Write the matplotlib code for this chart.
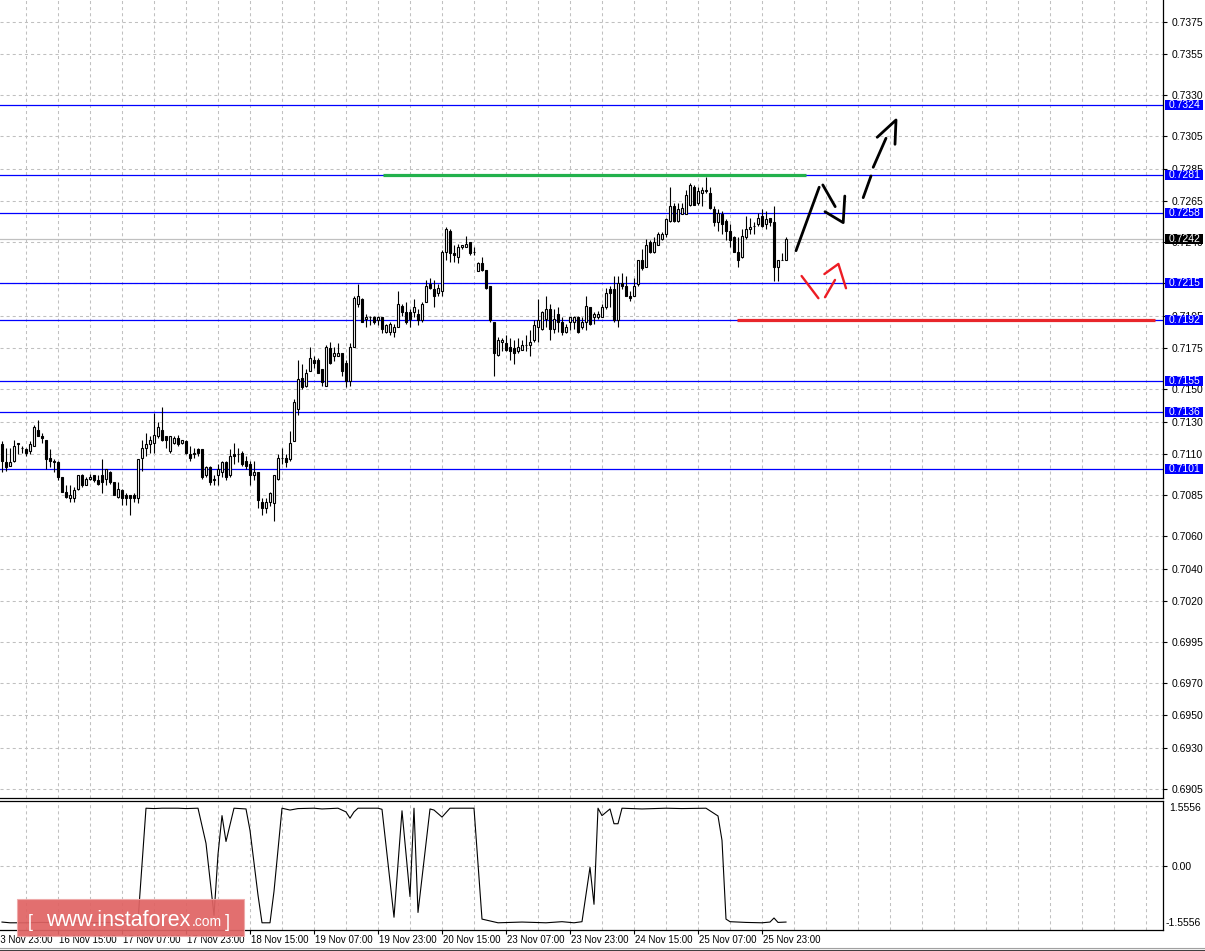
import numpy as np
import matplotlib
matplotlib.use("Agg")
import matplotlib.pyplot as plt
from matplotlib.transforms import blended_transform_factory, offset_copy
from matplotlib.patches import Rectangle
from matplotlib.lines import Line2D

plt.rcParams['font.family'] = ['Liberation Sans', 'DejaVu Sans']
plt.rcParams['lines.scale_dashes'] = False

# ---------------- data ----------------
opens = [0.7116,0.7105,0.7103,0.7106,0.7116,0.7114,0.7113,0.7112,0.7115,0.7125,
0.7121,0.7119,0.7108,0.7105,0.7105,0.7096,0.7087,0.7083,0.7083,0.7089,
0.7097,0.7091,0.7095,0.7097,0.7094,0.7097,0.7095,0.7099,0.7093,0.7084,
0.7088,0.7085,0.7085,0.7085,0.7083,0.7108,0.7114,0.7116,0.7117,0.7121,
0.7125,0.7121,0.7112,0.7117,0.7120,0.7117,0.7118,0.7110,0.7110,0.7113,
0.7113,0.7097,0.7102,0.7094,0.7097,0.7099,0.7105,0.7097,0.7110,0.7110,
0.7111,0.7106,0.7104,0.7097,0.7099,0.7081,0.7077,0.7081,0.7080,0.7095,
0.7108,0.7108,0.7107,0.7118,0.7138,0.7157,0.7152,0.7161,0.7168,0.7168,
0.7162,0.7152,0.7175,0.7170,0.7170,0.7172,0.7166,0.7155,0.7176,0.7202,
0.7205,0.7193,0.7194,0.7194,0.7192,0.7194,0.7185,0.7185,0.7185,0.7188,
0.7201,0.7197,0.7197,0.7197,0.7196,0.7192,0.7203,0.7214,0.7211,0.7209,
0.7210,0.7234,0.7247,0.7233,0.7231,0.7237,0.7237,0.7240,0.7234,0.7222,
0.7227,0.7223,0.7213,0.7191,0.7171,0.7179,0.7178,0.7176,0.7175,0.7173,
0.7174,0.7177,0.7177,0.7180,0.7188,0.7187,0.7193,0.7199,0.7187,0.7196,
0.7191,0.7185,0.7191,0.7191,0.7194,0.7188,0.7191,0.7200,0.7194,0.7194,
0.7194,0.7200,0.7211,0.7211,0.7192,0.7215,0.7213,0.7207,0.7207,0.7214,
0.7229,0.7225,0.7240,0.7234,0.7238,0.7242,0.7245,0.7253,0.7262,0.7253,
0.7257,0.7257,0.7263,0.7274,0.7264,0.7270,0.7271,0.7270,0.7260,0.7252,
0.7257,0.7253,0.7247,0.7243,0.7234,0.7231,0.7243,0.7248,0.7250,0.7251,
0.7256,0.7251,0.7255,0.7252,0.7225,0.7229,0.7229]

highs = [0.7118,0.7114,0.7114,0.7119,0.7117,0.7115,0.7114,0.7118,0.7128,0.7131,
0.7123,0.7119,0.7113,0.7107,0.7106,0.7096,0.7091,0.7091,0.7090,0.7097,
0.7098,0.7096,0.7098,0.7097,0.7097,0.7107,0.7101,0.7100,0.7093,0.7093,
0.7089,0.7086,0.7085,0.7086,0.7107,0.7119,0.7123,0.7121,0.7135,0.7130,
0.7139,0.7121,0.7121,0.7121,0.7122,0.7119,0.7119,0.7115,0.7114,0.7114,
0.7113,0.7103,0.7103,0.7097,0.7104,0.7106,0.7106,0.7113,0.7117,0.7114,
0.7112,0.7109,0.7106,0.7106,0.7099,0.7083,0.7083,0.7087,0.7097,0.7110,
0.7114,0.7110,0.7124,0.7144,0.7168,0.7165,0.7162,0.7176,0.7170,0.7169,
0.7162,0.7177,0.7179,0.7176,0.7178,0.7172,0.7168,0.7178,0.7207,0.7214,
0.7206,0.7196,0.7195,0.7195,0.7195,0.7194,0.7190,0.7191,0.7190,0.7210,
0.7202,0.7203,0.7199,0.7205,0.7199,0.7203,0.7217,0.7218,0.7217,0.7214,
0.7235,0.7249,0.7248,0.7238,0.7239,0.7238,0.7244,0.7240,0.7237,0.7228,
0.7231,0.7223,0.7213,0.7191,0.7182,0.7181,0.7183,0.7181,0.7180,0.7181,
0.7180,0.7183,0.7186,0.7192,0.7205,0.7198,0.7207,0.7202,0.7199,0.7200,
0.7194,0.7190,0.7194,0.7195,0.7195,0.7194,0.7207,0.7200,0.7197,0.7198,
0.7202,0.7212,0.7213,0.7219,0.7219,0.7221,0.7219,0.7210,0.7218,0.7229,
0.7236,0.7242,0.7241,0.7243,0.7246,0.7246,0.7255,0.7274,0.7264,0.7264,
0.7264,0.7272,0.7276,0.7275,0.7274,0.7274,0.7280,0.7274,0.7262,0.7260,
0.7259,0.7254,0.7251,0.7244,0.7243,0.7248,0.7256,0.7255,0.7252,0.7258,
0.7260,0.7259,0.7255,0.7262,0.7229,0.7233,0.7243]

lows = [0.7099,0.7100,0.7103,0.7105,0.7110,0.7111,0.7109,0.7110,0.7115,0.7121,
0.7117,0.7101,0.7102,0.7099,0.7094,0.7087,0.7083,0.7081,0.7081,0.7088,
0.7090,0.7091,0.7094,0.7093,0.7091,0.7086,0.7091,0.7092,0.7085,0.7083,
0.7079,0.7079,0.7073,0.7081,0.7080,0.7100,0.7109,0.7111,0.7111,0.7120,
0.7118,0.7114,0.7111,0.7116,0.7115,0.7116,0.7110,0.7106,0.7108,0.7109,
0.7095,0.7096,0.7091,0.7091,0.7091,0.7096,0.7094,0.7096,0.7104,0.7105,
0.7103,0.7101,0.7091,0.7094,0.7077,0.7073,0.7074,0.7078,0.7069,0.7094,
0.7104,0.7102,0.7106,0.7118,0.7134,0.7150,0.7151,0.7161,0.7163,0.7160,
0.7152,0.7152,0.7165,0.7167,0.7170,0.7158,0.7151,0.7152,0.7176,0.7200,
0.7191,0.7188,0.7189,0.7190,0.7189,0.7184,0.7184,0.7183,0.7182,0.7188,
0.7195,0.7190,0.7188,0.7194,0.7189,0.7191,0.7203,0.7211,0.7200,0.7207,
0.7207,0.7229,0.7228,0.7228,0.7227,0.7236,0.7237,0.7232,0.7232,0.7222,
0.7222,0.7211,0.7191,0.7158,0.7170,0.7173,0.7173,0.7168,0.7165,0.7172,
0.7174,0.7173,0.7170,0.7179,0.7179,0.7186,0.7188,0.7180,0.7184,0.7185,
0.7183,0.7184,0.7186,0.7187,0.7184,0.7187,0.7186,0.7189,0.7190,0.7193,
0.7194,0.7199,0.7200,0.7191,0.7188,0.7211,0.7207,0.7204,0.7207,0.7213,
0.7223,0.7225,0.7233,0.7233,0.7238,0.7241,0.7243,0.7252,0.7252,0.7252,
0.7257,0.7257,0.7262,0.7263,0.7263,0.7262,0.7270,0.7260,0.7250,0.7247,
0.7245,0.7241,0.7237,0.7234,0.7225,0.7230,0.7242,0.7245,0.7245,0.7250,
0.7249,0.7248,0.7250,0.7216,0.7216,0.7229,0.7229]

closes = [0.7106,0.7102,0.7105,0.7115,0.7117,0.7114,0.7111,0.7116,0.7127,0.7121,
0.7120,0.7107,0.7106,0.7106,0.7096,0.7087,0.7084,0.7085,0.7088,0.7097,
0.7091,0.7095,0.7096,0.7094,0.7092,0.7093,0.7101,0.7093,0.7085,0.7089,
0.7083,0.7083,0.7083,0.7083,0.7107,0.7114,0.7116,0.7119,0.7122,0.7127,
0.7119,0.7119,0.7121,0.7120,0.7116,0.7119,0.7111,0.7108,0.7111,0.7111,
0.7096,0.7102,0.7093,0.7095,0.7101,0.7105,0.7096,0.7109,0.7109,0.7110,
0.7104,0.7103,0.7097,0.7099,0.7082,0.7077,0.7081,0.7086,0.7097,0.7108,
0.7108,0.7105,0.7117,0.7142,0.7156,0.7151,0.7160,0.7169,0.7166,0.7160,
0.7154,0.7176,0.7166,0.7172,0.7172,0.7161,0.7155,0.7176,0.7206,0.7207,
0.7191,0.7194,0.7194,0.7191,0.7194,0.7187,0.7189,0.7190,0.7188,0.7202,
0.7197,0.7191,0.7193,0.7200,0.7192,0.7202,0.7213,0.7212,0.7207,0.7212,
0.7234,0.7248,0.7233,0.7232,0.7237,0.7238,0.7239,0.7233,0.7234,0.7227,
0.7223,0.7212,0.7192,0.7172,0.7180,0.7180,0.7174,0.7173,0.7172,0.7176,
0.7177,0.7177,0.7179,0.7189,0.7192,0.7197,0.7199,0.7187,0.7193,0.7191,
0.7185,0.7188,0.7194,0.7194,0.7185,0.7191,0.7201,0.7190,0.7196,0.7196,
0.7200,0.7209,0.7209,0.7192,0.7215,0.7213,0.7207,0.7206,0.7213,0.7229,
0.7224,0.7238,0.7234,0.7240,0.7245,0.7245,0.7254,0.7262,0.7253,0.7260,
0.7261,0.7269,0.7275,0.7263,0.7271,0.7272,0.7272,0.7261,0.7252,0.7258,
0.7251,0.7247,0.7241,0.7234,0.7229,0.7244,0.7248,0.7249,0.7250,0.7255,
0.7250,0.7254,0.7252,0.7225,0.7229,0.7229,0.7242]

# indicator (bar index, value)
ind_bars = [0,2,6,10,14,20,26,30,34,36,38,40,44,46,49,51,53,54,55,56,58,61,62,64,65,67,68,70,72,74,78,80,84,86,87,88,89,94,95,
            98,100,102,103,104,107,108,110,112,118,120,124,130,136,140,143,145,147,148,149,150,152,153,154,155,160,166,170,176,
            179,180,181,182,186,190,192,193,194,196]
ind_vals = [-1.53,-1.55,-1.55,-1.54,-1.55,-1.55,-1.54,-1.55,-1.50,1.55,1.54,1.55,1.55,1.54,1.55,0.60,-1.35,0.30,1.35,0.65,1.55,1.53,0.95,-0.80,-1.55,-1.55,-0.70,1.55,1.50,1.54,1.55,1.53,1.55,1.45,1.28,1.45,1.55,1.55,1.52,
            -1.40,1.48,-0.84,1.55,-1.27,1.53,1.50,1.31,1.55,1.55,-1.45,-1.55,-1.53,-1.55,-1.52,-1.55,-1.52,-0.05,-1.05,1.55,1.35,1.53,1.13,1.13,1.55,1.53,1.55,1.54,1.55,
            1.34,0.68,-1.45,-1.52,-1.54,-1.55,-1.53,-1.42,-1.54,-1.53]
ind_max = 1.5556

# levels
blue_levels = [0.7324, 0.7281, 0.7258, 0.7215, 0.7192, 0.7155, 0.7136, 0.7101]
bid_level = 0.7242
price_ticks = [0.7375, 0.7355, 0.7330, 0.7305, 0.7285, 0.7265, 0.7240, 0.7215, 0.7195, 0.7175,
               0.7150, 0.7130, 0.7110, 0.7085, 0.7060, 0.7040, 0.7020, 0.6995, 0.6970, 0.6950,
               0.6930, 0.6905]
green_line = (0.7281, 95.25, 201.0)
red_line = (0.7192, 183.75, 288.25)

time_ticks = [-2, 14, 30, 46, 62, 78, 94, 110, 126, 142, 158, 174, 190]
time_labels = ["13 Nov 23:00", "16 Nov 15:00", "17 Nov 07:00", "17 Nov 23:00", "18 Nov 15:00",
               "19 Nov 07:00", "19 Nov 23:00", "20 Nov 15:00", "23 Nov 07:00", "23 Nov 23:00",
               "24 Nov 15:00", "25 Nov 07:00", "25 Nov 23:00"]

black_paths = [
    [(198.5, 0.72347), (204.3, 0.72736)],
    [(205.2, 0.72750), (208.3, 0.72617)],
    [(205.75, 0.72586), (210.3, 0.72519), (210.7, 0.72682)],
    [(215.3, 0.72672), (217.25, 0.72805)],
    [(217.8, 0.72858), (221.0, 0.73036)],
    [(218.8, 0.73042), (223.5, 0.73148), (223.25, 0.72999)],
]
red_paths = [
    [(199.9, 0.72192), (204.1, 0.72056)],
    [(205.75, 0.72062), (208.25, 0.72168)],
    [(205.6, 0.72204), (209.1, 0.72266), (211.0, 0.72117)],
]

# ---------------- figure ----------------
W, H = 1205, 951
fig = plt.figure(figsize=(W / 100, H / 100), dpi=100)
fig.patch.set_facecolor('white')

def fx(px):
    return px / W

def fy(py):
    return 1 - py / H

FS = 7.5
FSX = 7
ax = fig.add_axes([0, fy(798), fx(1163), 798 / H])
axi = fig.add_axes([0, fy(930), fx(1163), (930 - 801) / H])

XL = (-0.5, 290.25)
GRID = dict(color='#c0c0c0', lw=0.75, linestyle=(0, (2.2, 2.2)), zorder=0)

for a in (ax, axi):
    a.set_xlim(*XL)
    a.set_facecolor('white')
    a.spines['left'].set_visible(False)
    for s in ('right', 'bottom', 'top'):
        a.spines[s].set_color('black')
        a.spines[s].set_linewidth(0.9)
    for k in range(6, 290, 8):
        a.axvline(k, **GRID)
ax.spines['top'].set_visible(False)

ax.set_ylim(0.68994, 0.73883)
ax.set_xticks([])
ax.yaxis.tick_right()
ax.set_yticks(price_ticks)
ax.set_yticklabels([f"{v:.4f}" for v in price_ticks])
ax.tick_params(axis='y', direction='out', length=3, width=0.8, pad=3, labelsize=FS, colors='black')
for v in price_ticks:
    ax.axhline(v, **GRID)

# candles
o = np.array(opens); h = np.array(highs); l = np.array(lows); c = np.array(closes)
x = np.arange(len(c))
ax.vlines(x, l, h, color='black', lw=0.8, zorder=3)
up = c >= o
ax.bar(x, np.abs(c - o), bottom=np.minimum(o, c), width=0.58,
       color=np.where(up, 'white', 'black'), edgecolor='black', lw=0.8, zorder=4)

# levels
for lv in blue_levels:
    ax.axhline(lv, color='#0000ff', lw=0.9, zorder=2)
ax.axhline(bid_level, color='#c0c0c0', lw=0.9, zorder=1)
ax.hlines(green_line[0], green_line[1], green_line[2], color='#22b14c', lw=2.3, zorder=5)
ax.hlines(red_line[0], red_line[1], red_line[2], color='#e8262b', lw=2.3, zorder=5)

for p in black_paths:
    xs, ys = zip(*p)
    ax.plot(xs, ys, color='black', lw=2.0, solid_capstyle='round', solid_joinstyle='round', zorder=6)
for p in red_paths:
    xs, ys = zip(*p)
    ax.plot(xs, ys, color='#ed1c24', lw=1.7, solid_capstyle='round', solid_joinstyle='round', zorder=6)

# right-axis boxes
tb = blended_transform_factory(fig.transFigure, ax.transData)
hh = 5 * (0.73883 - 0.68994) / 798
for lv, col in [(v, '#0000ff') for v in blue_levels] + [(bid_level, 'black')]:
    ax.add_patch(Rectangle((fx(1165), lv - hh), fx(38), 2 * hh, transform=tb,
                           facecolor=col, edgecolor='none', clip_on=False, zorder=10))
    ax.text(fx(1169), lv, f"{lv:.4f}", transform=tb, color='white', fontsize=FS,
            va='center', ha='left', clip_on=False, zorder=11)

# indicator
axi.set_ylim(-1.745, 1.745)
axi.plot(ind_bars, ind_vals, color='black', lw=0.8, zorder=3)
axi.axhline(0, **GRID)
axi.yaxis.tick_right()
axi.set_yticks([0])
axi.set_yticklabels(["0.00"])
axi.tick_params(axis='y', direction='out', length=3, width=0.8, pad=3, labelsize=FS)
ti = blended_transform_factory(fig.transFigure, axi.transData)
axi.text(fx(1169), ind_max, f"{ind_max:.4f}", transform=ti, fontsize=FS, va='center', ha='left', clip_on=False)
axi.text(fx(1166), -ind_max, f"{-ind_max:.4f}", transform=ti, fontsize=FS, va='center', ha='left', clip_on=False)

axi.set_xticks(time_ticks[1:])
axi.set_xticklabels([])
axi.tick_params(axis='x', direction='out', length=3, width=0.8)
tl = offset_copy(blended_transform_factory(axi.transData, axi.transAxes), fig=fig, x=1, y=-5, units='dots')
for k, lab in zip(time_ticks, time_labels):
    axi.text(k, 0, lab, transform=tl, fontsize=FSX, ha='left', va='top', clip_on=False)

# window bottom border
fig.add_artist(Line2D([0, 1], [fy(947.5)] * 2, transform=fig.transFigure, color='#a0a0a0', lw=0.8))
fig.add_artist(Line2D([0, 1], [fy(949.5)] * 2, transform=fig.transFigure, color='#404040', lw=0.8))

# watermark
fig.add_artist(Rectangle((fx(17), fy(936)), fx(227), (936 - 899) / H, transform=fig.transFigure,
                         facecolor='#e06464', edgecolor='#eeaaaa', lw=0.8, alpha=0.93, zorder=20))
fig.text(fx(28), fy(927), "[", color='white', fontsize=13, va='baseline', ha='left', zorder=21)
fig.text(fx(46), fy(926), "www.instaforex", color='white', fontsize=15.5, va='baseline', ha='left', zorder=21)
fig.text(fx(192), fy(926), ".com", color='white', fontsize=10, va='baseline', ha='left', zorder=21)
fig.text(fx(225), fy(927), "]", color='white', fontsize=13, va='baseline', ha='left', zorder=21)

fig.savefig("out.png", dpi=100, facecolor='white')
